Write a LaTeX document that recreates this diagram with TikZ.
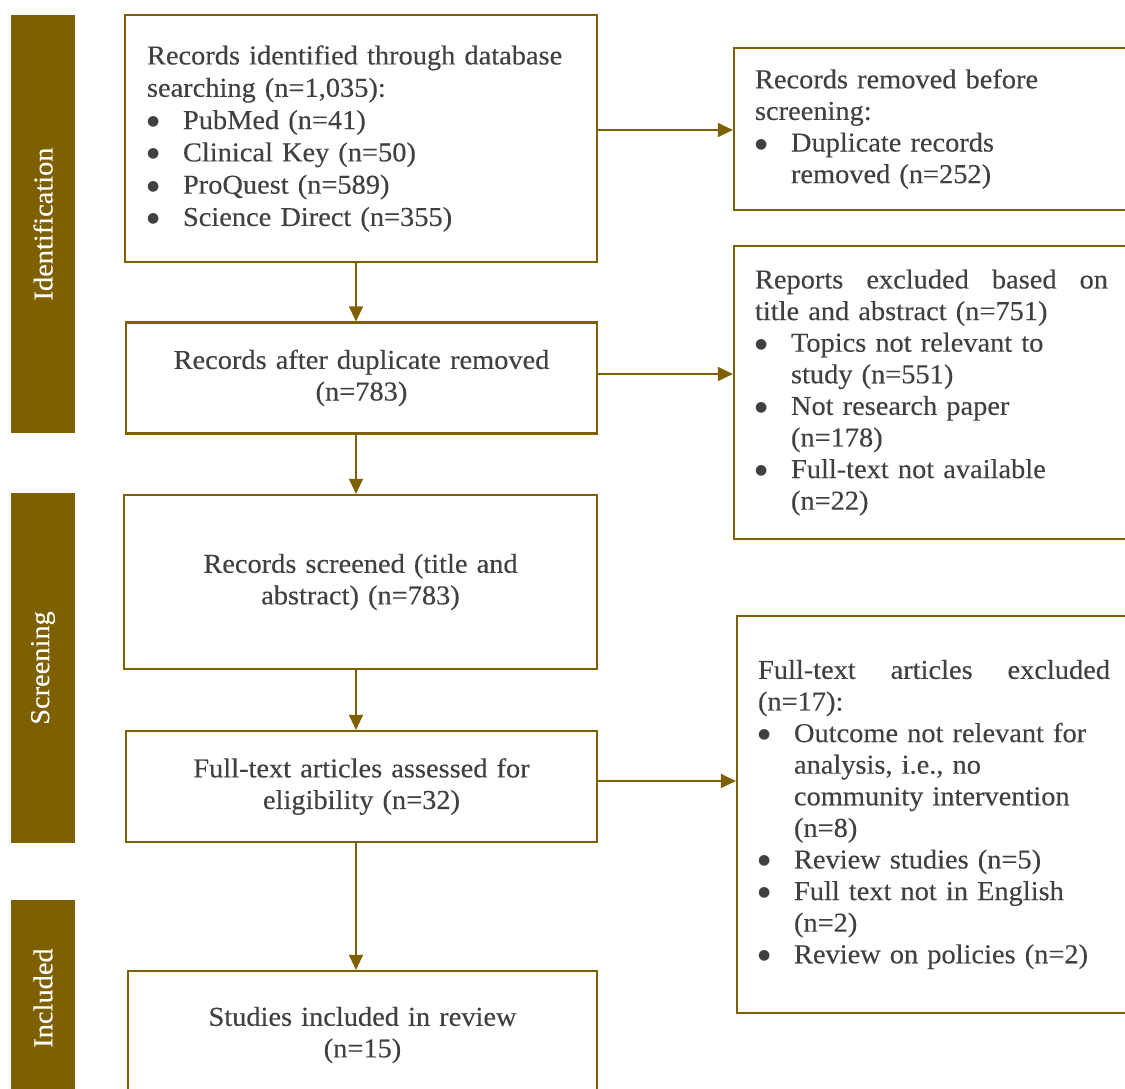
\documentclass[tikz,border=0pt]{standalone}
\usepackage{fontspec}
\setmainfont{Liberation Serif}[FakeStretch=1.04,FakeBold=0.25]
\newfontfamily\dotfont{DejaVu Sans}
\usetikzlibrary{arrows.meta}
\definecolor{gold}{HTML}{7F6000}
\definecolor{txt}{HTML}{404040}
\newcommand\bul{\makebox[36pt][l]{\raisebox{3.5pt}{\dotfont\fontsize{14}{14}\selectfont ●}}}
\newcommand\ind{\hspace*{36pt}}
\tikzset{
  box/.style={draw=gold, line width=2.2pt, inner sep=0pt, text=txt,
    font=\fontsize{27.3}{31.6}\selectfont},
  lbox/.style={box, align=left},
  cbox/.style={box, align=center},
  bar/.style={fill=gold, inner sep=0pt},
  barlabel/.style={text=white, rotate=90, font=\fontsize{27.3}{31.6}\selectfont},
  conn/.style={draw=gold, line width=1.3pt, -{Triangle[length=15pt,width=14pt]}}
}
\begin{document}
\begin{tikzpicture}[x=1pt,y=-1pt]
\useasboundingbox (0,0) rectangle (1125,1088);
\clip (0,0) rectangle (1125,1088);
% phase bars
\node[bar, minimum width=64pt, minimum height=418pt] (pid) at (43,224) {};
\node[barlabel] (pidt) at (pid.center) {Identification};
\node[bar, minimum width=64pt, minimum height=350pt] (psc) at (43,668) {};
\node[barlabel] (psct) at (psc.center) {Screening};
\node[bar, minimum width=64pt, minimum height=200pt] (pin) at (43,1000) {};
\node[barlabel] (pint) at (43,998) {Included};
% main boxes
\node[lbox, minimum width=472pt, minimum height=247pt, text width=428pt,
  font=\fontsize{27.3}{32.3}\selectfont] (b1) at (361,138.5) {%
Records identified through database\\
searching (n=1,035):\\
\bul PubMed (n=41)\\
\bul Clinical Key (n=50)\\
\bul ProQuest (n=589)\\
\bul Science Direct (n=355)};
\node[cbox, minimum width=471pt, minimum height=111pt, text width=440pt] (b2) at (361.5,378) {%
Records after duplicate removed\\(n=783)};
\node[cbox, minimum width=473pt, minimum height=174pt, text width=440pt] (b3) at (360.5,582) {%
Records screened (title and\\abstract) (n=783)};
\node[cbox, minimum width=471pt, minimum height=111pt, text width=440pt] (b4) at (361.5,786.5) {%
Full-text articles assessed for\\eligibility (n=32)};
\node[cbox, minimum width=469pt, minimum height=128pt, text width=440pt] (b5) at (362.5,1035) {%
Studies included in review\\(n=15)};
% right boxes
\node[lbox, minimum width=398pt, minimum height=162pt, text width=356pt] (r1) at (933,129) {%
Records removed before\\
screening:\\
\bul Duplicate records\\
\ind removed (n=252)};
\node[lbox, minimum width=398pt, minimum height=293pt, text width=356pt] (r2) at (933,392.5) {%
\hbox to 353pt{Reports\hfill excluded\hfill based\hfill on}\\
title and abstract (n=751)\\
\bul Topics not relevant to\\
\ind study (n=551)\\
\bul Not research paper\\
\ind (n=178)\\
\bul Full-text not available\\
\ind (n=22)};
\node[lbox, minimum width=397pt, minimum height=397pt, text width=355pt] (r3) at (935.5,814.5) {%
\hbox to 352pt{Full-text\hfill articles\hfill excluded}\\
(n=17):\\
\bul Outcome not relevant for\\
\ind analysis, i.e., no\\
\ind community intervention\\
\ind (n=8)\\
\bul Review studies (n=5)\\
\bul Full text not in English\\
\ind (n=2)\\
\bul Review on policies (n=2)};
% connectors
\coordinate (ax) at (356,0);
\draw[conn] (b1.south -| ax) -- (b2.north -| ax);
\draw[conn] (b2.south -| ax) -- (b3.north -| ax);
\draw[conn] (b3.south -| ax) -- (b4.north -| ax);
\draw[conn] (b4.south -| ax) -- (b5.north -| ax);
\coordinate (h1) at (0,130);
\coordinate (h2) at (0,374);
\coordinate (h3) at (0,781);
\draw[conn] (b1.east |- h1) -- (r1.west |- h1);
\draw[conn] (b2.east |- h2) -- (r2.west |- h2);
\draw[conn] (b4.east |- h3) -- (r3.west |- h3);
\end{tikzpicture}
\end{document}
